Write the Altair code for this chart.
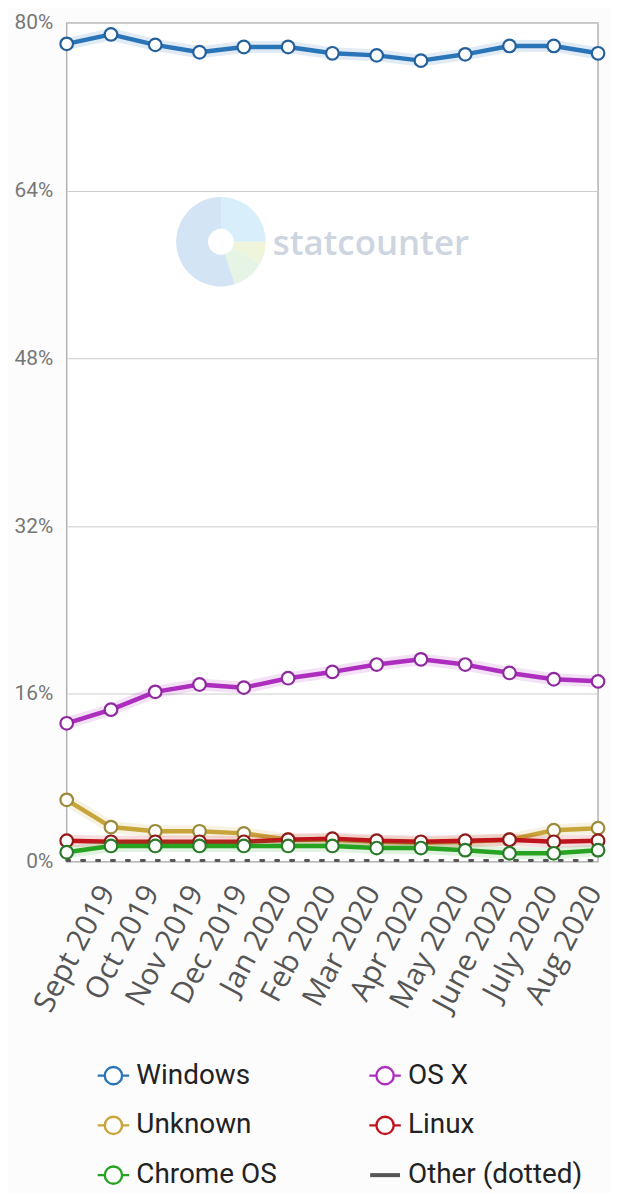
import altair as alt
import pandas as pd

months = ["Aug 2019", "Sept 2019", "Oct 2019", "Nov 2019", "Dec 2019", "Jan 2020",
          "Feb 2020", "Mar 2020", "Apr 2020", "May 2020", "June 2020", "July 2020", "Aug 2020"]
windows = [78.0, 78.9, 77.9, 77.2, 77.7, 77.7, 77.1, 76.9, 76.4, 77.0, 77.8, 77.8, 77.1]
osx = [13.2, 14.5, 16.2, 16.9, 16.6, 17.5, 18.1, 18.8, 19.3, 18.8, 18.0, 17.4, 17.2]
unknown = [5.9, 3.3, 2.9, 2.9, 2.7, 2.1, 2.1, 1.9, 1.8, 1.9, 2.1, 3.0, 3.2]
linux = [2.0, 1.9, 1.9, 1.9, 1.9, 2.1, 2.2, 2.0, 1.9, 2.0, 2.1, 1.9, 2.0]
chrome = [0.9, 1.5, 1.5, 1.5, 1.5, 1.5, 1.5, 1.3, 1.3, 1.1, 0.8, 0.8, 1.1]
other = [0.12, 0.12, 0.12, 0.12, 0.12, 0.12, 0.12, 0.12, 0.12, 0.12, 0.12, 0.12, 0.12]

series_names = ["Windows", "OS X", "Unknown", "Linux", "Chrome OS", "Other (dotted)"]
series_values = [windows, osx, unknown, linux, chrome, other]
line_colors = ["#2a74b8", "#ad2ebe", "#c8a53a", "#c0141c", "#27a322", "#555555"]
point_colors = ["#24609a", "#8e2a9e", "#9a8a3a", "#8e1a1a", "#2a7a2a", "#555555"]
y_ticks = [0, 16, 32, 48, 64, 80]

# watermark logo segments
logo_parts = [25, 8, 12, 55]
logo_colors = ["#d8effb", "#eef5da", "#e5f4e5", "#d3e4f5"]

rows = []
for name, vals in zip(series_names, series_values):
    for m, v in zip(months, vals):
        rows.append({"month": m, "value": v, "series": name})
df = pd.DataFrame(rows)

W, H = 534, 843

x_enc = alt.X("month:O", sort=months,
              scale=alt.Scale(type="point", padding=0, domain=months),
              axis=alt.Axis(values=months[1:], labelAngle=-62, labelAlign="right",
                            labelBaseline="middle", labelFont="Open Sans",
                            labelFontSize=30, labelColor="#555555", labelPadding=26,
                            labelOffset=-4, labelOverlap=False, ticks=False,
                            domain=False, grid=False, title=None))
y_enc = alt.Y("value:Q", scale=alt.Scale(domain=[0, 80], nice=False, zero=True),
              axis=alt.Axis(values=y_ticks, labelExpr="datum.value + '%'",
                            labelFont="Roboto", labelFontSize=21, labelColor="#777777",
                            labelPadding=14, ticks=False, domain=False, grid=True,
                            gridColor="#cccccc", gridWidth=1, title=None))

base = alt.Chart(df).encode(x=x_enc, y=y_enc)

layers = []
# watermark
logo_df = pd.DataFrame({"v": logo_parts, "c": logo_colors, "o": list(range(len(logo_parts)))})
logo = alt.Chart(logo_df).mark_arc(radius=45, radius2=13).encode(
    theta=alt.Theta("v:Q", stack=True),
    color=alt.Color("c:N", scale=None, legend=None),
    order=alt.Order("o:Q"),
    x=alt.value(155), y=alt.value(220))
wm_text = alt.Chart(pd.DataFrame({"t": ["statcounter"]})).mark_text(
    font="Open Sans", fontSize=35, fontWeight=600, color="#cdd5e0", align="left",
    baseline="middle").encode(text="t:N", x=alt.value(207), y=alt.value(222))
layers += [logo, wm_text]

draw_order = ["Other (dotted)", "Unknown", "Linux", "Chrome OS", "OS X", "Windows"]
for name in draw_order:
    i = series_names.index(name)
    sub = base.transform_filter(alt.datum.series == name)
    if name == "Other (dotted)":
        layers.append(sub.mark_line(color=line_colors[i], strokeWidth=3,
                                    strokeDash=[3, 12], strokeCap="round",
                                    strokeJoin="round"))
        continue
    layers.append(sub.mark_line(color=line_colors[i], strokeWidth=12, opacity=0.14,
                                strokeJoin="round", clip=True))
    layers.append(sub.mark_line(color=line_colors[i], strokeWidth=4.5, strokeJoin="round"))
    layers.append(sub.mark_point(size=160, shape="circle", filled=False, fill="white",
                                 fillOpacity=1, stroke=point_colors[i], strokeWidth=2.2,
                                 opacity=1))

main = alt.layer(*layers).properties(width=W, height=H)

# manual legend
circle_path = ("M-1,0L-0.55,0M0.55,0L1,0M0.55,0A0.55,0.55,0,1,1,-0.55,0"
               "A0.55,0.55,0,1,1,0.55,0Z")
line_path = "M-0.95,0L0.95,0"
leg_df = pd.DataFrame({
    "name": series_names,
    "col": [0, 1, 0, 1, 0, 1],
    "row": [0, 0, 1, 1, 2, 2],
    "kind": ["circle", "circle", "circle", "circle", "circle", "line"],
    "sw": [2.4, 2.4, 2.4, 2.4, 2.4, 4],
})
lx = alt.X("col:Q", scale=alt.Scale(domain=[-0.172, 1.784], nice=False), axis=None)
ly = alt.Y("row:Q", scale=alt.Scale(domain=[-0.5, 2.2], reverse=True, nice=False), axis=None)
leg_base = alt.Chart(leg_df).encode(x=lx, y=ly)
leg_sym = leg_base.mark_point(size=1000, fill="white", fillOpacity=1, opacity=1).encode(
    shape=alt.Shape("kind:N", scale=alt.Scale(domain=["circle", "line"],
                                              range=[circle_path, line_path]), legend=None),
    stroke=alt.Stroke("name:N", scale=alt.Scale(domain=series_names, range=line_colors),
                      legend=None),
    strokeWidth=alt.StrokeWidth("sw:Q", scale=None, legend=None))
leg_txt = leg_base.mark_text(align="left", baseline="middle", dx=23, font="Roboto",
                             fontSize=28, color="#222222").encode(text="name:N")
legend = alt.layer(leg_sym, leg_txt).properties(
    width=W, height=135, view=alt.ViewConfig(stroke="transparent", fill="transparent"))

chart = alt.vconcat(main, legend, spacing=32).properties(
    padding={"left": 5, "top": 0, "right": 0, "bottom": 0},
    background="#fcfcfc"
).configure_view(stroke="#b3b3b3", strokeWidth=1.5, fill="white")

chart.save("out.html", embed_options={"renderer": "svg", "actions": False})
